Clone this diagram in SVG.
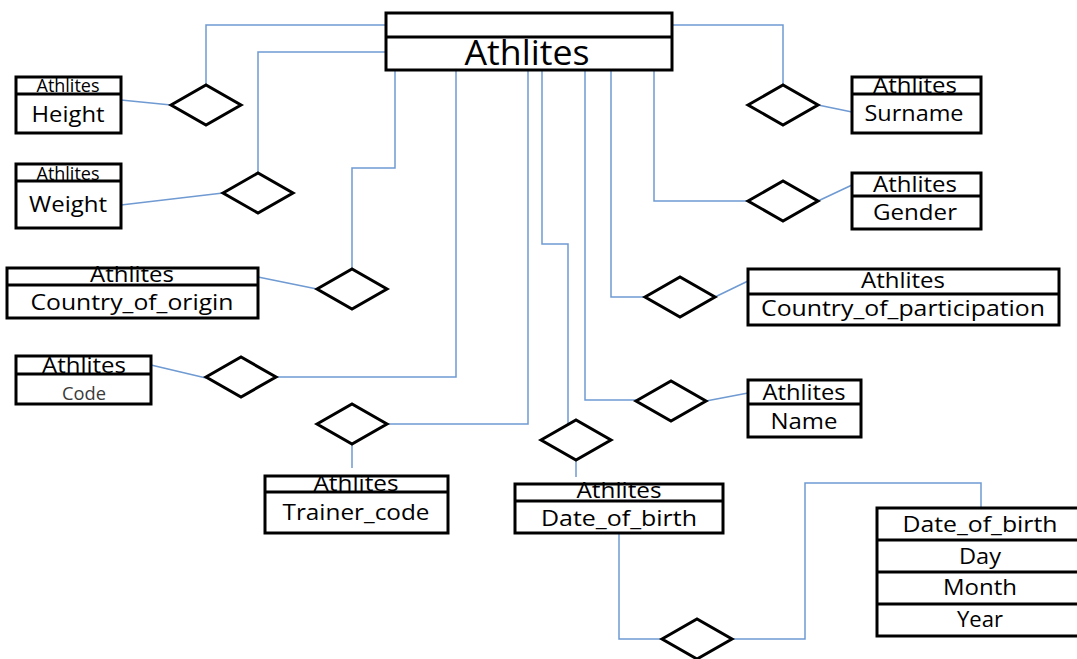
<svg xmlns="http://www.w3.org/2000/svg" width="1077" height="659" viewBox="0 0 1077 659">
  <style>
    .box { fill: #ffffff; stroke: #000000; stroke-width: 3; }
    .div { stroke: #000000; stroke-width: 3; }
    .rel { fill: #ffffff; stroke: #000000; stroke-width: 3; stroke-linejoin: miter; }
    .link { fill: none; stroke: #6f9ad2; stroke-width: 1.5; }
    text { font-family: "Open Sans", "Liberation Sans", sans-serif; fill: #000000; text-anchor: middle; }
    .hd { font-size: 22px; }
    .hds { font-size: 18px; }
    .val { font-size: 22px; }
  </style>
  <defs>
    <polygon id="diamond" class="rel" points="-35,0 0,-20 35,0 0,20"/>
  </defs>
  <rect width="1077" height="659" fill="#ffffff"/>

  <!-- connectors -->
  <g id="connectors">
    <polyline class="link" points="386,25 206,25 206,85"/>
    <line class="link" x1="121" y1="100" x2="171" y2="105"/>
    <polyline class="link" points="386,52 258,52 258,173"/>
    <line class="link" x1="121" y1="205" x2="223" y2="193"/>
    <polyline class="link" points="395,70 395,168 352,168 352,269"/>
    <line class="link" x1="258" y1="277" x2="317" y2="289"/>
    <polyline class="link" points="456,70 456,377 276,377"/>
    <line class="link" x1="151" y1="365" x2="206" y2="378"/>
    <polyline class="link" points="528,70 528,424 387,424"/>
    <line class="link" x1="352" y1="444" x2="352" y2="468"/>
    <polyline class="link" points="542,70 542,244 568,244 568,424"/>
    <line class="link" x1="576" y1="460" x2="576" y2="477"/>
    <polyline class="link" points="585,70 585,400 636,400"/>
    <line class="link" x1="706" y1="401" x2="748" y2="393"/>
    <polyline class="link" points="611,70 611,297 645,297"/>
    <line class="link" x1="715" y1="297" x2="748" y2="281"/>
    <polyline class="link" points="654,70 654,201 748,201"/>
    <line class="link" x1="818" y1="201" x2="852" y2="185"/>
    <polyline class="link" points="672,25 783,25 783,85"/>
    <line class="link" x1="818" y1="105" x2="852" y2="112"/>
    <polyline class="link" points="619,533 619,639 662,639"/>
    <polyline class="link" points="732,639 805,639 805,483 981,483 981,508"/>
  </g>

  <!-- relationship diamonds -->
  <g id="relationships">
    <use href="#diamond" x="206" y="105"/>
    <use href="#diamond" x="258" y="193"/>
    <use href="#diamond" x="352" y="289"/>
    <use href="#diamond" x="241" y="377"/>
    <use href="#diamond" x="352" y="424"/>
    <use href="#diamond" x="576" y="440"/>
    <use href="#diamond" x="671" y="401"/>
    <use href="#diamond" x="680" y="297"/>
    <use href="#diamond" x="783" y="201"/>
    <use href="#diamond" x="783" y="105"/>
    <use href="#diamond" x="697" y="639"/>
  </g>

  <!-- main entity -->
  <g id="athlites">
    <rect class="box" x="386" y="13" width="286" height="57"/>
    <line class="div" x1="386" y1="37" x2="672" y2="37"/>
    <text x="527" y="65" font-size="35" textLength="125" lengthAdjust="spacingAndGlyphs">Athlites</text>
  </g>

  <g id="height">
    <rect class="box" x="16" y="77" width="105" height="56"/>
    <line class="div" x1="16" y1="94" x2="121" y2="94"/>
    <text class="hds" x="68" y="92" textLength="63" lengthAdjust="spacingAndGlyphs">Athlites</text>
    <text class="val" x="68" y="122" font-size="23" textLength="73" lengthAdjust="spacingAndGlyphs">Height</text>
  </g>

  <g id="weight">
    <rect class="box" x="16" y="164" width="105" height="64"/>
    <line class="div" x1="16" y1="181" x2="121" y2="181"/>
    <text class="hds" x="68" y="180" textLength="63" lengthAdjust="spacingAndGlyphs">Athlites</text>
    <text class="val" x="68" y="212" font-size="23" textLength="78" lengthAdjust="spacingAndGlyphs">Weight</text>
  </g>

  <g id="country_of_origin">
    <rect class="box" x="7" y="268" width="251" height="50"/>
    <line class="div" x1="7" y1="285" x2="258" y2="285"/>
    <text class="hd" x="132" y="282" textLength="84" lengthAdjust="spacingAndGlyphs">Athlites</text>
    <text class="val" x="132" y="310" textLength="203" lengthAdjust="spacingAndGlyphs">Country_of_origin</text>
  </g>

  <g id="code">
    <rect class="box" x="16" y="356" width="135" height="48"/>
    <line class="div" x1="16" y1="374" x2="151" y2="374"/>
    <text class="hd" x="84" y="373" textLength="84" lengthAdjust="spacingAndGlyphs">Athlites</text>
    <text x="84" y="400" font-size="18" style="fill:#3a3a3a" textLength="44" lengthAdjust="spacingAndGlyphs">Code</text>
  </g>

  <g id="trainer_code">
    <rect class="box" x="265" y="476" width="183" height="57"/>
    <line class="div" x1="265" y1="492" x2="448" y2="492"/>
    <text class="hd" x="356" y="491" textLength="85" lengthAdjust="spacingAndGlyphs">Athlites</text>
    <text class="val" x="356" y="520" textLength="147" lengthAdjust="spacingAndGlyphs">Trainer_code</text>
  </g>

  <g id="date_of_birth">
    <rect class="box" x="515" y="484" width="208" height="49"/>
    <line class="div" x1="515" y1="501" x2="723" y2="501"/>
    <text class="hd" x="619" y="498" textLength="85" lengthAdjust="spacingAndGlyphs">Athlites</text>
    <text class="val" x="619" y="526" textLength="156" lengthAdjust="spacingAndGlyphs">Date_of_birth</text>
  </g>

  <g id="name">
    <rect class="box" x="748" y="380" width="113" height="57"/>
    <line class="div" x1="748" y1="404" x2="861" y2="404"/>
    <text class="hd" x="804" y="400" textLength="83" lengthAdjust="spacingAndGlyphs">Athlites</text>
    <text class="val" x="804" y="429" textLength="67" lengthAdjust="spacingAndGlyphs">Name</text>
  </g>

  <g id="surname">
    <rect class="box" x="852" y="77" width="129" height="56"/>
    <line class="div" x1="852" y1="94" x2="981" y2="94"/>
    <text class="hd" x="915" y="93" textLength="84" lengthAdjust="spacingAndGlyphs">Athlites</text>
    <text class="val" x="914" y="121" textLength="99" lengthAdjust="spacingAndGlyphs">Surname</text>
  </g>

  <g id="gender">
    <rect class="box" x="852" y="173" width="129" height="56"/>
    <line class="div" x1="852" y1="196" x2="981" y2="196"/>
    <text class="hd" x="915" y="192" textLength="84" lengthAdjust="spacingAndGlyphs">Athlites</text>
    <text class="val" x="915" y="220" textLength="84" lengthAdjust="spacingAndGlyphs">Gender</text>
  </g>

  <g id="country_of_participation">
    <rect class="box" x="748" y="269" width="311" height="56"/>
    <line class="div" x1="748" y1="294" x2="1059" y2="294"/>
    <text class="hd" x="903" y="288" textLength="84" lengthAdjust="spacingAndGlyphs">Athlites</text>
    <text class="val" x="903" y="316" textLength="284" lengthAdjust="spacingAndGlyphs">Country_of_participation</text>
  </g>

  <g id="date_of_birth_parts">
    <rect class="box" x="877" y="508" width="210" height="128"/>
    <line class="div" x1="877" y1="540" x2="1080" y2="540"/>
    <line class="div" x1="877" y1="572" x2="1080" y2="572"/>
    <line class="div" x1="877" y1="604" x2="1080" y2="604"/>
    <text class="val" x="980" y="532" textLength="155" lengthAdjust="spacingAndGlyphs">Date_of_birth</text>
    <text class="val" x="980" y="564" textLength="42" lengthAdjust="spacingAndGlyphs">Day</text>
    <text class="val" x="980" y="595" textLength="74" lengthAdjust="spacingAndGlyphs">Month</text>
    <text class="val" x="980" y="627" textLength="46" lengthAdjust="spacingAndGlyphs">Year</text>
  </g>
</svg>
